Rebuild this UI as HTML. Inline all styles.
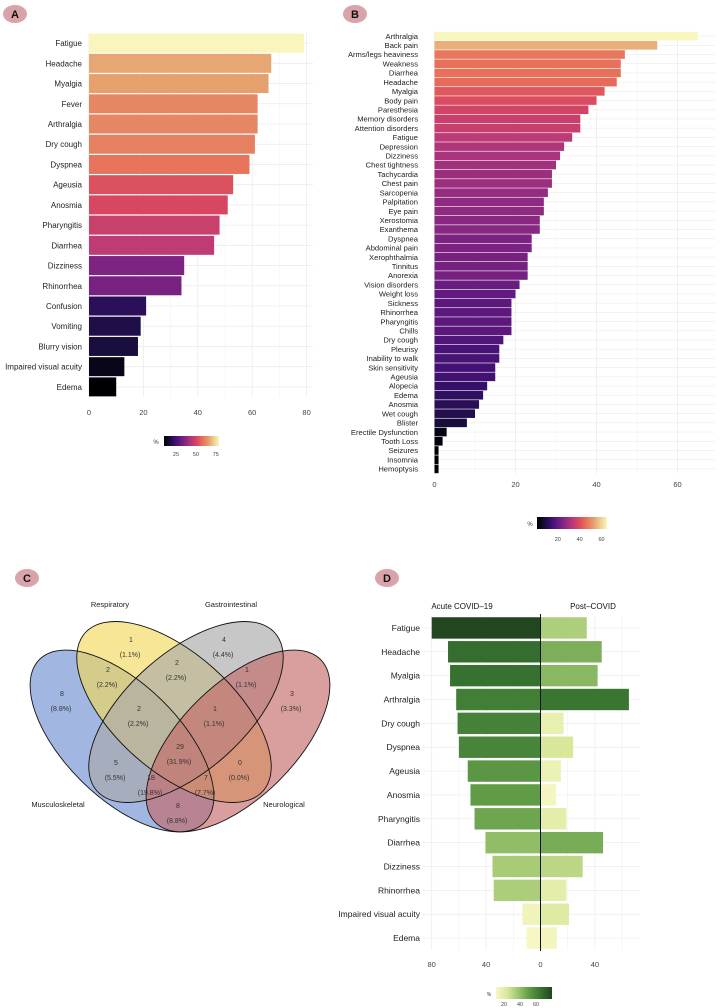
<!DOCTYPE html>
<html><head><meta charset="utf-8"><style>
body{margin:0;background:#fff;}
svg{display:block;font-family:"Liberation Sans",sans-serif;}
</style></head><body>
<svg id="fig" width="720" height="1008" viewBox="0 0 720 1008" xmlns="http://www.w3.org/2000/svg"></svg>
<script>
// ---------- DATA ----------
const catsA = ["Fatigue","Headache","Myalgia","Fever","Arthralgia","Dry cough","Dyspnea","Ageusia","Anosmia","Pharyngitis","Diarrhea","Dizziness","Rhinorrhea","Confusion","Vomiting","Blurry vision","Impaired visual acuity","Edema"];
const valsA = [79,67,66,62,62,61,59,53,51,48,46,35,34,21,19,18,13,10];
const ticksA = [0,20,40,60,80];
const legendA = [25,50,75];

const catsB = ["Arthralgia","Back pain","Arms/legs heaviness","Weakness","Diarrhea","Headache","Myalgia","Body pain","Paresthesia","Memory disorders","Attention disorders","Fatigue","Depression","Dizziness","Chest tightness","Tachycardia","Chest pain","Sarcopenia","Palpitation","Eye pain","Xerostomia","Exanthema","Dyspnea","Abdominal pain","Xerophthalmia","Tinnitus","Anorexia","Vision disorders","Weight loss","Sickness","Rhinorrhea","Pharyngitis","Chills","Dry cough","Pleurisy","Inability to walk","Skin sensitivity","Ageusia","Alopecia","Edema","Anosmia","Wet cough","Blister","Erectile Dysfunction","Tooth Loss","Seizures","Insomnia","Hemoptysis"];
const valsB = [65,55,47,46,46,45,42,40,38,36,36,34,32,31,30,29,29,28,27,27,26,26,24,24,23,23,23,21,20,19,19,19,19,17,16,16,15,15,13,12,11,10,8,3,2,1,1,1];
const ticksB = [0,20,40,60];
const legendB = [20,40,60];

const catsD = ["Fatigue","Headache","Myalgia","Arthralgia","Dry cough","Dyspnea","Ageusia","Anosmia","Pharyngitis","Diarrhea","Dizziness","Rhinorrhea","Impaired visual acuity","Edema"];
const acuteD = [80,68,66.5,62,61,60,53.5,51.5,48.5,40.5,35.3,34.4,13.3,10.3];
const postD = [34,45,42,65,17,24,15,11.5,19,46,31,19,21,12];
const ticksD = [-80,-40,0,40];
const legendD = [20,40,60];

const vennSets = ["Respiratory","Gastrointestinal","Musculoskeletal","Neurological"];
const vennCounts = ["1","4","2","2","1","8","3","2","1","29","5","0","18","7","8"];
const vennPcts = ["(1.1%)","(4.4%)","(2.2%)","(2.2%)","(1.1%)","(8.8%)","(3.3%)","(2.2%)","(1.1%)","(31.9%)","(5.5%)","(0.0%)","(19.8%)","(7.7%)","(8.8%)"];

// ---------- HELPERS ----------
const NS="http://www.w3.org/2000/svg";
const svg=document.getElementById('fig');
function mk(tag,attrs,parent){const e=document.createElementNS(NS,tag);for(const k in attrs)e.setAttribute(k,attrs[k]);(parent||svg).appendChild(e);return e;}
function hex(h){return [parseInt(h.slice(1,3),16),parseInt(h.slice(3,5),16),parseInt(h.slice(5,7),16)];}
function interp(stops,t){t=Math.max(0,Math.min(1,t));const n=stops.length-1;const i=Math.min(n-1,Math.floor(t*n));const f=t*n-i;const a=hex(stops[i]),b=hex(stops[i+1]);return 'rgb('+a.map((v,k)=>Math.round(v+(b[k]-v)*f)).join(',')+')';}
const magma=["#000004","#140e36","#3b0f70","#641a80","#8c2981","#b73779","#d9485f","#e8705a","#e59a6a","#eecb8e","#f8f6bd"];
const greens=["#f7f7c4","#d9e79a","#9cc46e","#5e9a45","#377330","#214620"];
function badge(x,y,letter,name){
  const g=mk('g',{});
  
  
  mk('ellipse',{cx:x,cy:y,rx:12,ry:9,fill:'#d9a4a9'},g);
  const t=mk('text',{x:x,y:y+4,'text-anchor':'middle','font-size':11,'font-weight':'bold',fill:'#111'},g);
  t.textContent=letter;
}
function gradDef(id,stops){const lg=mk('linearGradient',{id:id,x1:0,x2:1,y1:0,y2:0},defs);stops.forEach((c,i)=>mk('stop',{offset:i/(stops.length-1),'stop-color':c},lg));}
const defs=mk('defs',{});
gradDef('gMagma',magma);gradDef('gGreen',greens);

// ---------- PANEL A ----------
badge(15,14,'A','panel-a-badge');
(function(){
  const x0=89,pxu=2.72,top=33,bot=397,right=313;
  const sx=v=>x0+v*pxu;
  const step=(bot-top)/catsA.length;
  const sy=i=>top+step*(i+0.5);
  const mn=Math.min(...valsA),mx=Math.max(...valsA);
  const g=mk('g',{});
  
  
  for(let v=0;v<=85;v+=10){if(sx(v)>right)break;mk('line',{x1:sx(v),x2:sx(v),y1:top,y2:bot,stroke:'#ececec','stroke-width':v%20===0?0.8:0.4},g);}
  catsA.forEach((c,i)=>{mk('line',{x1:x0,x2:right,y1:sy(i),y2:sy(i),stroke:'#ececec','stroke-width':0.8},g);});
  catsA.forEach((c,i)=>{
    const r=mk('rect',{x:x0,y:sy(i)-9.5,width:valsA[i]*pxu,height:19,fill:interp(magma,(valsA[i]-mn)/(mx-mn))},g);
    
    
    const t=mk('text',{x:82,y:sy(i)+3,'text-anchor':'end','font-size':8,fill:'#222'},g);
    
    
    t.textContent=c;
  });
  ticksA.forEach(v=>{const t=mk('text',{x:sx(v),y:415,'text-anchor':'middle','font-size':7.5,fill:'#444'},g);
    
    
    t.textContent=v;});
  const lx=164,lw=55,lmn=10,lmx=79;
  const pt=mk('text',{x:156,y:444,'font-size':6,fill:'#333','text-anchor':'middle'},g);pt.textContent='%';
  const lr=mk('rect',{x:lx,y:436,width:lw,height:10,fill:'url(#gMagma)'},g);
  
  
  legendA.forEach(v=>{const t=mk('text',{x:lx+(v-lmn)/(lmx-lmn)*lw,y:456,'font-size':5.5,fill:'#444','text-anchor':'middle'},g);
    
    t.textContent=v;});
})();

// ---------- PANEL B ----------
badge(355,14,'B','panel-b-badge');
(function(){
  const x0=434.5,pxu=4.05,top=31.5,bot=473.5,right=715;
  const sx=v=>x0+v*pxu;
  const step=(bot-top)/catsB.length;
  const sy=i=>top+step*(i+0.5);
  const mn=Math.min(...valsB),mx=Math.max(...valsB);
  const g=mk('g',{});
  
  
  for(let v=0;v<=70;v+=10){if(sx(v)>right)break;mk('line',{x1:sx(v),x2:sx(v),y1:top,y2:bot,stroke:'#ececec','stroke-width':v%20===0?0.8:0.4},g);}
  catsB.forEach((c,i)=>{mk('line',{x1:x0,x2:right,y1:sy(i),y2:sy(i),stroke:'#ececec','stroke-width':0.6},g);});
  catsB.forEach((c,i)=>{
    const r=mk('rect',{x:x0,y:sy(i)-4.3,width:valsB[i]*pxu,height:8.6,fill:interp(magma,(valsB[i]-mn)/(mx-mn))},g);
    
    
    const t=mk('text',{x:418,y:sy(i)+2.7,'text-anchor':'end','font-size':7.6,fill:'#222'},g);
    
    
    t.textContent=c;
  });
  ticksB.forEach(v=>{const t=mk('text',{x:sx(v),y:487,'text-anchor':'middle','font-size':7.5,fill:'#444'},g);
    
    
    t.textContent=v;});
  const lx=537,lw=70,lmn=1,lmx=65;
  const pt=mk('text',{x:530,y:526,'font-size':6,fill:'#333','text-anchor':'middle'},g);pt.textContent='%';
  const lr=mk('rect',{x:lx,y:517,width:lw,height:12,fill:'url(#gMagma)'},g);
  
  
  legendB.forEach(v=>{const t=mk('text',{x:lx+(v-lmn)/(lmx-lmn)*lw,y:541,'font-size':5.5,fill:'#444','text-anchor':'middle'},g);
    
    t.textContent=v;});
})();

// ---------- PANEL C (Venn) ----------
badge(27,578,'C','panel-c-badge');
(function(){
  const g=mk('g',{});
  
  
  const ells=[
    {cx:122,cy:741,rx:116,ry:57,rot:44.5,fill:'#6f8fd0',name:'venn-musculoskeletal-ellipse'},
    {cx:174,cy:712,rx:119,ry:59,rot:41.6,fill:'#f2d85c',name:'venn-respiratory-ellipse'},
    {cx:186,cy:712,rx:119,ry:59,rot:-41.6,fill:'#a9a9a9',name:'venn-gastrointestinal-ellipse'},
    {cx:238,cy:741,rx:116,ry:57,rot:-44.5,fill:'#c46a6a',name:'venn-neurological-ellipse'}];
  ells.forEach(e=>{const el=mk('ellipse',{cx:e.cx,cy:e.cy,rx:e.rx,ry:e.ry,transform:`rotate(${e.rot} ${e.cx} ${e.cy})`,fill:e.fill,'fill-opacity':0.65},g);
    
    });
  ells.forEach(e=>{mk('ellipse',{cx:e.cx,cy:e.cy,rx:e.rx,ry:e.ry,transform:`rotate(${e.rot} ${e.cx} ${e.cy})`,fill:'none',stroke:'#111','stroke-width':0.9},g);});
  const setPos=[[110,607],[231,607],[58,807],[284,807]];
  vennSets.forEach((s,i)=>{const t=mk('text',{x:setPos[i][0],y:setPos[i][1],'text-anchor':'middle','font-size':7.5,fill:'#222'},g);
    
    
    t.textContent=s;});
  const pos=[[131,639],[224,639],[177,662],[108,669],[247,669],[62,693],[292,693],[139,708],[215,708],[180,746],[116,762],[240,762],[151,777],[206,777],[178,805]];
  vennCounts.forEach((c,i)=>{
    const t=mk('text',{x:pos[i][0],y:pos[i][1]+3,'text-anchor':'middle','font-size':7,fill:'#333'},g);
    
    
    t.textContent=c;
    const p=mk('text',{x:pos[i][0]-1,y:pos[i][1]+18,'text-anchor':'middle','font-size':7,fill:'#333'},g);
    
    
    p.textContent=vennPcts[i];
  });
})();

// ---------- PANEL D ----------
badge(387,578,'D','panel-d-badge');
(function(){
  const x0=540.5,pxu=1.36,top=616,bot=950,left=423,right=640;
  const sx=v=>x0+v*pxu;
  const step=(bot-top)/catsD.length;
  const sy=i=>top+step*(i+0.5);
  const g=mk('g',{});
  
  
  for(let v=-80;v<=70;v+=20){if(sx(v)>right)break;mk('line',{x1:sx(v),x2:sx(v),y1:top,y2:bot,stroke:'#ececec','stroke-width':v%40===0?0.8:0.5},g);}
  catsD.forEach((c,i)=>{mk('line',{x1:left,x2:right,y1:sy(i),y2:sy(i),stroke:'#ececec','stroke-width':0.7},g);});
  const col=v=>interp(greens,(v-10)/70);
  catsD.forEach((c,i)=>{
    const a=mk('rect',{x:sx(-acuteD[i]),y:sy(i)-10.7,width:acuteD[i]*pxu,height:21.4,fill:col(acuteD[i])},g);
    
    
    const p=mk('rect',{x:x0,y:sy(i)-10.7,width:postD[i]*pxu,height:21.4,fill:col(postD[i])},g);
    
    
    const t=mk('text',{x:420,y:sy(i)+3,'text-anchor':'end','font-size':8.5,fill:'#222'},g);
    
    
    t.textContent=c;
  });
  mk('line',{x1:x0,x2:x0,y1:614,y2:951,stroke:'#111','stroke-width':1},g);
  const h1=mk('text',{x:462,y:609,'text-anchor':'middle','font-size':8,fill:'#111'},g);
  
  h1.textContent='Acute COVID\u201319';
  const h2=mk('text',{x:593,y:609,'text-anchor':'middle','font-size':8,fill:'#111'},g);
  
  h2.textContent='Post\u2013COVID';
  ticksD.forEach(v=>{const t=mk('text',{x:sx(v),y:967,'text-anchor':'middle','font-size':7.5,fill:'#444'},g);
    
    
    t.textContent=Math.abs(v);});
  const lx=496,lw=56,lmn=10,lmx=80;
  const pt=mk('text',{x:489,y:996,'font-size':5,fill:'#333','text-anchor':'middle'},g);pt.textContent='%';
  const lr=mk('rect',{x:lx,y:987,width:lw,height:12,fill:'url(#gGreen)'},g);
  
  
  legendD.forEach(v=>{const t=mk('text',{x:lx+(v-lmn)/(lmx-lmn)*lw,y:1006,'font-size':5.5,fill:'#444','text-anchor':'middle'},g);
    
    t.textContent=v;});
})();
</script>
</body></html>
